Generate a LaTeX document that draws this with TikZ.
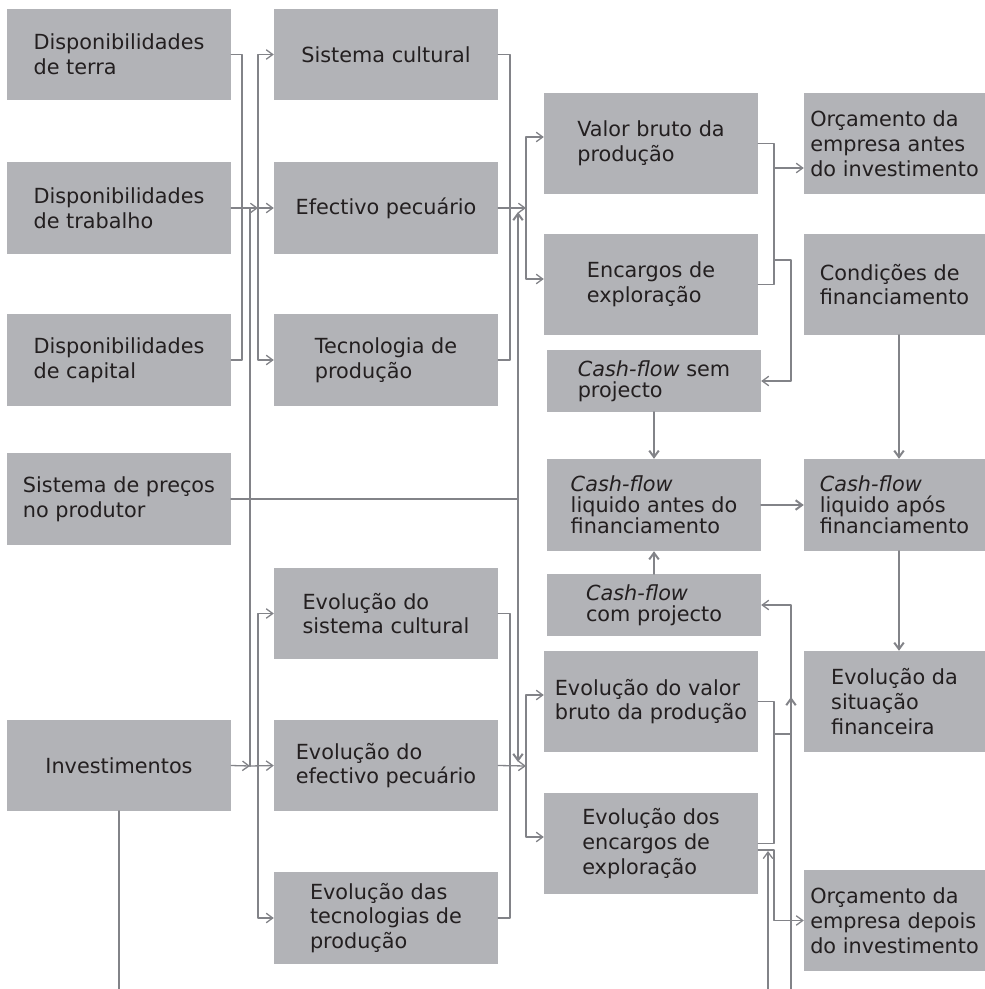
\documentclass[tikz,border=0pt]{standalone}
\usepackage{fontspec}
\setmainfont{DejaVu Sans}
\usetikzlibrary{arrows.meta}

\definecolor{boxgray}{RGB}{178,179,183}
\definecolor{linegray}{RGB}{130,131,136}
\definecolor{textdark}{RGB}{35,31,32}

\tikzset{
  box/.style 2 args={fill=boxgray, text=textdark, inner sep=0pt, align=left,
    minimum width=#1pt, minimum height=#2pt,
    font=\fontsize{20.8}{24.8}\selectfont},
  cfbox/.style={font=\fontsize{20.8}{21}\selectfont},
  link/.style={draw=linegray, line width=1.3pt},
  heavy/.style={draw=linegray, line width=2pt},
  arr/.style={link, -{Straight Barb[length=6.5pt,width=9.5pt]}},
  harr/.style={heavy, -{Straight Barb[length=6.5pt,width=9.5pt]}}
}

\begin{document}
\begin{tikzpicture}[x=1pt, y=-1pt, line join=round, line cap=round]
  \useasboundingbox (0,0) rectangle (985,989);

  % first column
  \node[box={224}{91}] (terra)    at (119,54.5) {Disponibilidades\\de terra};
  \node[box={224}{92}] (trabalho) at (119,208)  {Disponibilidades\\de trabalho};
  \node[box={224}{92}] (capital)  at (119,360)  {Disponibilidades\\de capital};
  \node[box={224}{92}] (precos)   at (119,499)  {Sistema de preços\\no produtor};
  \node[box={224}{91}] (invest)   at (119,765.5) {Investimentos};

  % second column
  \node[box={224}{91}] (sistcult) at (386,54.5) {Sistema cultural};
  \node[box={224}{92}] (efectivo) at (386,208)  {Efectivo pecuário};
  \node[box={224}{92}] (tecnol)   at (386,360)  {Tecnologia de\\produção};
  \node[box={224}{91}] (evsist)   at (386,613.5) {Evolução do\\sistema cultural};
  \node[box={224}{91}] (evefect)  at (386,765.5) {Evolução do\\efectivo pecuário};
  \node[box={224}{92}] (evtecn)   at (386,918)  {Evolução das\\tecnologias de\\produção};

  % third column
  \node[box={214}{101}] (valor)    at (651,143.5) {Valor bruto da\\produção};
  \node[box={214}{101}] (encargos) at (651,284.5) {Encargos de\\exploração};
  \node[box={214}{62}, cfbox] (cfsem)   at (654,381) {\textit{Cash-flow} sem\\projecto};
  \node[box={214}{92}, cfbox] (cfantes) at (654,505) {\textit{Cash-flow}\\liquido antes do\\financiamento};
  \node[box={214}{62}, cfbox] (cfcom)   at (654,605) {\textit{Cash-flow}\\com projecto};
  \node[box={214}{101}] (evvalor)  at (651,701.5) {Evolução do valor\\bruto da produção};
  \node[box={214}{101}] (evenc)    at (651,843.5) {Evolução dos\\encargos de\\exploração};

  % fourth column
  \node[box={181}{101}] (orcantes)  at (894.5,143.5) {Orçamento da\\empresa antes\\do investimento};
  \node[box={181}{101}] (condicoes) at (894.5,284.5) {Condições de\\financiamento};
  \node[box={181}{92}, cfbox] (cfapos) at (894.5,505) {\textit{Cash-flow}\\liquido após\\financiamento};
  \node[box={181}{101}] (evsit)     at (894.5,701.5) {Evolução da\\situação\\financeira};
  \node[box={181}{101}] (orcdepois) at (894.5,920.5) {Orçamento da\\empresa depois\\do investimento};

  % junctions
  \coordinate (j0) at (242,208);
  \coordinate (j1) at (250,208);
  \coordinate (j2) at (250,766);
  \coordinate (b1) at (258,208);
  \coordinate (b2) at (258,766);
  \coordinate (c0) at (510,208);
  \coordinate (c1) at (510,766);
  \coordinate (b3) at (526,208);
  \coordinate (b4) at (526,766);
  \coordinate (p1) at (518,499);
  \coordinate (p1up) at (518,212);
  \coordinate (p1dn) at (518,762);
  \coordinate (invbot) at (119,989);
  \coordinate (k0) at (774,168);
  \coordinate (k1) at (774,260);
  \coordinate (r1) at (791,260);
  \coordinate (k2) at (774,734);
  \coordinate (r2) at (791,734);
  \coordinate (r2tip) at (791,697);
  \coordinate (k3) at (774,850);
  \coordinate (m1) at (768,989);
  \coordinate (m1tip) at (768,851);
  \coordinate (m2) at (791,989);

  % resources to the production system
  \draw[link] (terra.east) -| (j0) |- (capital.east);
  \draw[arr] (trabalho.east) -- (b1);
  \draw[arr] (b1) -- (efectivo.west);
  \draw[arr] (b1) |- (sistcult.west);
  \draw[arr] (b1) |- (tecnol.west);
  \draw[heavy] (j1) -- (j2);

  % investments
  \draw[arr] (invest.east) -- (j2);
  \draw[arr] (j2) -- (evefect.west);
  \draw[arr] (b2) |- (evsist.west);
  \draw[arr] (b2) |- (evtecn.west);
  \draw[heavy] (invest.south) -- (invbot);

  % prices
  \draw[heavy] (precos.east) -- (p1);
  \draw[harr] (p1) -- (p1up);
  \draw[harr] (p1) -- (p1dn);

  % production system to value and charges
  \draw[link] (sistcult.east) -| (c0) |- (tecnol.east);
  \draw[arr] (efectivo.east) -- (b3);
  \draw[arr] (b3) |- ([yshift=6.5pt]valor.west);
  \draw[arr] (b3) |- ([yshift=5.5pt]encargos.west);

  \draw[link] (evsist.east) -| (c1) |- (evtecn.east);
  \draw[arr] (evefect.east) -- (b4);
  \draw[arr] (b4) |- ([yshift=6.5pt]evvalor.west);
  \draw[arr] (b4) |- ([yshift=6.5pt]evenc.west);

  % budgets and cash-flows
  \draw[link] (valor.east) -| (k1) |- (encargos.east);
  \draw[arr] (k0) -- ([yshift=-24.5pt]orcantes.west);
  \draw[arr] (k1) -- (r1) |- (cfsem.east);

  \draw[link] (evvalor.east) -| (k2) |- (evenc.east);
  \draw[harr] (k2) -- (r2) -- (r2tip);
  \draw[arr] (m2) |- (cfcom.east);
  \draw[arr] ([yshift=-6.5pt]evenc.east) -- (k3) |- (orcdepois.west);
  \draw[arr] (m1) -- (m1tip);

  \draw[harr] (cfsem) -- (cfantes);
  \draw[harr] (cfcom) -- (cfantes);
  \draw[harr] (cfantes) -- (cfapos);
  \draw[harr] ([xshift=4.5pt]condicoes.south) -- ([xshift=4.5pt]cfapos.north);
  \draw[harr] ([xshift=4.5pt]cfapos.south) -- ([xshift=4.5pt]evsit.north);
\end{tikzpicture}
\end{document}
